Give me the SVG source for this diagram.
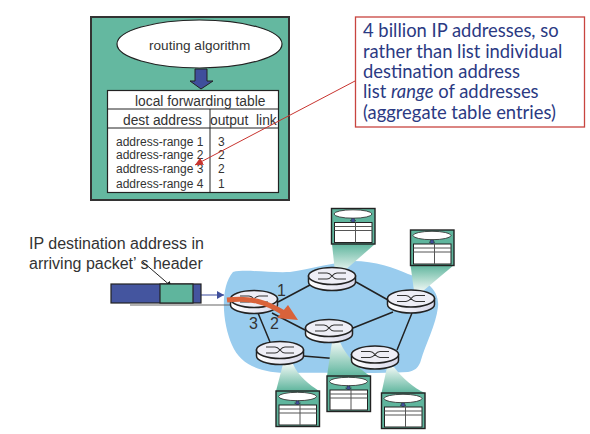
<svg xmlns="http://www.w3.org/2000/svg" width="590" height="434" viewBox="0 0 590 434">
<style>
text{font-family:"Liberation Sans",Arial,sans-serif;fill:#333}
.t{font-size:12px}
.h{font-size:13.800px}
.l{font-size:16px}
.c{font-family:"Lato","Open Sans",sans-serif;font-size:18.400px;fill:#2b3a83}
.link{stroke:#222;stroke-width:1.500;fill:none}
.m{fill:#5fb59d;stroke:#222;stroke-width:1.400}
.me{fill:#fff;stroke:#222;stroke-width:.8}
.mt{fill:#fff;stroke:#222;stroke-width:1}
.ml{stroke:#555;stroke-width:1;fill:none}
.ma{fill:#3f4f9c;stroke:#222;stroke-width:.4}
.rs{fill:url(#rg);stroke:#222;stroke-width:1.500}
.rt{fill:#eeeef6;stroke:#222;stroke-width:1.500}
.rx{stroke:#333;stroke-width:1.100;fill:none}
</style>
<defs>
<linearGradient id="rg" x1="0" x2="1" y1="0" y2="0"><stop offset="0" stop-color="#fff"/><stop offset="1" stop-color="#d8d8ea"/></linearGradient>
<linearGradient id="bu" x1="0" x2="0" y1="0" y2="1"><stop offset="0" stop-color="#5fb59d"/><stop offset="1" stop-color="#eef7f4"/></linearGradient>
<linearGradient id="bd" x1="0" x2="0" y1="0" y2="1"><stop offset="0" stop-color="#eef7f4"/><stop offset="1" stop-color="#5fb59d"/></linearGradient>
<marker id="ab" markerWidth="8" markerHeight="8" refX="6" refY="3" orient="auto" markerUnits="userSpaceOnUse"><path d="M0 0L6 3L0 6Z" fill="#222"/></marker>
<marker id="ar" markerWidth="10" markerHeight="8" refX="8" refY="4" orient="auto" markerUnits="userSpaceOnUse"><path d="M0 0L8 4L0 8Z" fill="#c8342f"/></marker>
<marker id="ap" markerWidth="8" markerHeight="8" refX="7" refY="4" orient="auto" markerUnits="userSpaceOnUse"><path d="M0 0L7 4L0 8Z" fill="#3f4f9c"/></marker>
<g id="router"><path class="rs" d="M-23.500 0V6A23.500 8.500 0 0 0 23.500 6V0Z"/><ellipse class="rt" cx="0" cy="0" rx="23.500" ry="8.500"/><path class="rx" d="M-14 -3H-5C0 -3 0 3 5 3H14M-14 3H-5C0 3 0 -3 5 -3H14"/></g>
<g id="mini"><rect class="m" width="43.500" height="35.500"/><ellipse class="me" cx="21.500" cy="5.500" rx="19" ry="4.200"/><path class="ma" d="M20 10H23V12H24.500L21.500 14L18.500 12H20Z"/><rect class="mt" x="3" y="14" width="37.500" height="20"/><path class="ml" d="M3 18H40.500M3 22H40.500M24 14V34"/></g>
</defs>
<path id="cloud" fill="#99ccee" d="M233 272C245 269 270 273 290 272C310 269 335 262 353 261C375 261 395 268 408 274C425 279 440 290 438 307C436 325 425 345 421 360C419 368 414 371 408 372C370 374 320 372 290 373C262 373 241 366 232 345C223 325 219 288 233 272Z"/>
<g id="connectors">
<path class="link" d="M278 302L310 285M356 282L388 300M353 328L393 312M412 313L397 350M272 313L305 330M258 313L270 342M303 356L352 360"/>
<path d="M130 305H232" stroke="#666" stroke-width="1.200" fill="none"/>
<path d="M143 262L172 287" stroke="#222" stroke-width="1" marker-end="url(#ab)" fill="none"/>
<path d="M201 295H224" stroke="#5a68ad" stroke-width="1.200" marker-end="url(#ap)" fill="none"/>
</g>
<g id="beams">
<path fill="url(#bu)" d="M332 244H375L343 272H335Z"/>
<path fill="url(#bu)" d="M410.500 265H454L423 291H414Z"/>
<path fill="url(#bd)" d="M332 342H340C346 356 358 368 370 376H327Z"/>
<path fill="url(#bd)" d="M387 367H394C402 378 414 388 425 393H381.500Z"/>
<path fill="url(#bd)" d="M283 364H293C298 376 310 385 319 391H276Z"/>
</g>
<g id="routers">
<use id="r1" href="#router" x="254" y="299"/>
<use id="r2" href="#router" x="332" y="276"/>
<use id="r3" href="#router" x="411" y="298.500"/>
<use id="r4" href="#router" x="329" y="328"/>
<use id="r5" href="#router" x="280" y="350"/>
<use id="r6" href="#router" x="375" y="354.500"/>
</g>
<g id="minis">
<use href="#mini" x="331.500" y="208.500"/>
<use href="#mini" x="410.500" y="230"/>
<use href="#mini" x="327" y="376"/>
<use href="#mini" x="381.500" y="393"/>
<use href="#mini" x="276" y="391"/>
</g>
<g id="packet">
<rect x="111" y="284" width="90" height="19" fill="#44559f" stroke="#222" stroke-width="1.200"/>
<rect x="160" y="284" width="33" height="19" fill="#5fb59d" stroke="#222" stroke-width="1.200"/>
</g>
<path id="flow" d="M227 300C250 297 266 302 284 313" fill="none" stroke="#d9623a" stroke-width="5"/>
<path d="M288 305L298 320L277 318Z" fill="#d9623a"/>
<g id="link-labels">
<text class="l" x="277" y="296">1</text>
<text class="l" x="249" y="329">3</text>
<text class="l" x="270" y="329">2</text>
</g>
<text class="l" x="29" y="249">IP destination address in</text>
<text class="l" x="29" y="269">arriving packet’ s header</text>
<g id="control">
<rect x="91" y="17" width="198" height="183" fill="#64b8a0" stroke="#333" stroke-width="2"/>
<ellipse cx="199.500" cy="44" rx="82.500" ry="24" fill="#fff" stroke="#222" stroke-width="1.200"/>
<text x="149" y="50" style="font-size:13.600px">routing algorithm</text>
<path d="M195 69H207V81H213L201 89L190 81H195Z" fill="#3f4f9c" stroke="#222"/>
<rect x="107.500" y="90.500" width="171" height="102" fill="#fff" stroke="#222" stroke-width="1.200"/>
<path d="M107 109H278M107 128H278M210 109V192" stroke="#222" stroke-width="1" fill="none"/>
<text class="h" x="135" y="106">local forwarding table</text>
<text class="h" x="123" y="125">dest address</text>
<text class="h" x="210" y="125">output <tspan x="256">link</tspan></text>
<text class="t" x="116" y="146">address-range 1</text>
<text class="t" x="116" y="159">address-range 2</text>
<text class="t" x="116" y="173">address-range 3</text>
<text class="t" x="116" y="188">address-range 4</text>
<text class="t" x="218" y="146">3</text>
<text class="t" x="218" y="159">2</text>
<text class="t" x="218" y="173">2</text>
<text class="t" x="218" y="188">1</text>
</g>
<g id="callout">
<rect x="355.500" y="17" width="229" height="110" fill="#fff" stroke="#c8443f" stroke-width="1.300"/>
<text class="c" x="363" y="37">4 billion IP addresses, so</text>
<text class="c" x="363" y="58">rather than list individual</text>
<text class="c" x="363" y="77.500">destination address</text>
<text class="c" x="363" y="98">list <tspan font-style="italic">range</tspan> of addresses</text>
<text class="c" x="363" y="118.500">(aggregate table entries)</text>
</g>
<path id="pointer" d="M355 81L195 165" stroke="#c8342f" stroke-width="1" fill="none" marker-end="url(#ar)"/>
</svg>
